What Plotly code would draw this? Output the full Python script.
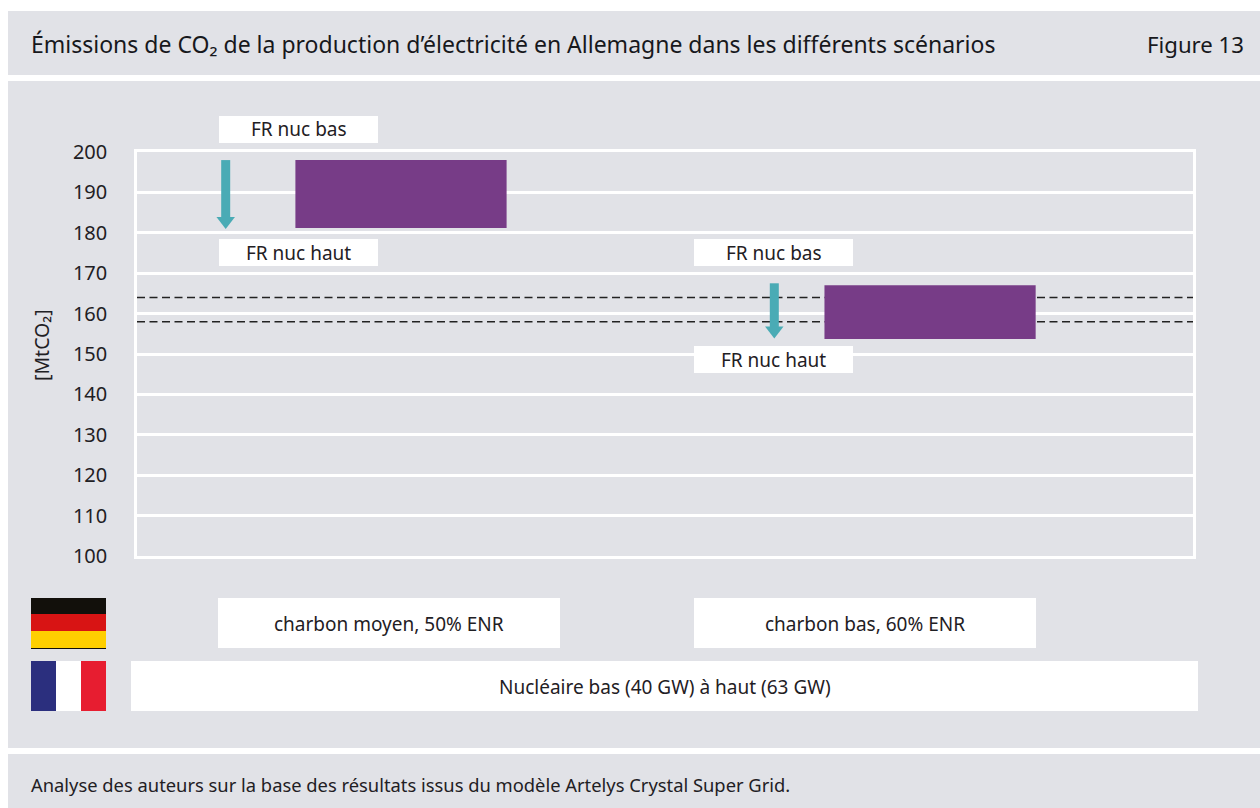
import plotly.graph_objects as go

# Data
scenario_pos = [0, 1.002]
scenario_labels = ["charbon moyen, 50% ENR", "charbon bas, 60% ENR"]
co2_low = [181.2, 153.7]     # FR nuc haut
co2_high = [198.0, 167.0]    # FR nuc bas
arrow_x = [-0.332, 0.707]
arrow_top = [198.0, 167.5]
arrow_tip = [180.9, 153.8]
reference_levels = [164, 158]
y_ticks = list(range(100, 201, 10))

TITLE = "Émissions de CO₂ de la production d’électricité en Allemagne dans les différents scénarios"
FIG_LABEL = "Figure 13"
FOOTER = "Analyse des auteurs sur la base des résultats issus du modèle Artelys Crystal Super Grid."
FR_LABEL = "Nucléaire bas (40 GW) à haut (63 GW)"
NUC_LOW = "FR nuc bas"
NUC_HIGH = "FR nuc haut"
Y_TITLE = "[MtCO₂]"

W, H = 1260, 808
L, R, T, B = 137, 1193, 152, 556
FONT = "Noto Sans"
TXT = "#1f2024"
PANEL = "#e1e2e7"
ARROW = "#4aabb5"

def px(x): return (x - L) / (R - L)
def py(y): return (B - y) / (B - T)

fig = go.Figure()

def rect(x0, y0, x1, y1, color, layer="below"):
    fig.add_shape(type="rect", xref="paper", yref="paper", x0=px(x0), x1=px(x1), y0=py(y0), y1=py(y1),
                  fillcolor=color, line_width=0, layer=layer)

def text(x, y, s, size, anchor="center", color=TXT, angle=0):
    fig.add_annotation(xref="paper", yref="paper", x=px(x), y=py(y), text=s, showarrow=False,
                       xanchor=anchor, yanchor="middle", borderpad=0, borderwidth=0, textangle=angle,
                       font=dict(family=FONT, size=size, color=color))

# Panels
rect(8, 11, W, 75, PANEL)
rect(8, 81, W, 748, PANEL)
rect(8, 754, W, H, PANEL)

# Reference lines (under the bars)
for lev in reference_levels:
    fig.add_shape(type="line", xref="x", yref="y", x0=-0.5, x1=1.5, y0=lev, y1=lev,
                  line=dict(color="#222222", width=1.6, dash="8px,4.5px"), layer="between")

# Bars
fig.add_trace(go.Bar(x=scenario_pos, y=[h - l for h, l in zip(co2_high, co2_low)], base=co2_low,
                     width=0.4, marker=dict(color="#773c87", line_width=0), showlegend=False))

# Arrows
for i in range(len(scenario_pos)):
    fig.add_trace(go.Scatter(x=[arrow_x[i], arrow_x[i]], y=[arrow_top[i], arrow_tip[i] + 2.5], mode="lines",
                             line=dict(color=ARROW, width=9), showlegend=False))
    fig.add_trace(go.Scatter(x=[arrow_x[i]], y=[arrow_tip[i] + 2], mode="markers",
                             marker=dict(symbol="triangle-down", size=16, color=ARROW, line_width=0),
                             showlegend=False))

# Text boxes
for (x0, y0, x1, y1, s, dy) in [(219, 116, 378, 143, NUC_LOW, -1), (219, 239, 378, 266, NUC_HIGH, 0),
                                (694, 239, 853, 266, NUC_LOW, 0), (694, 346, 853, 373, NUC_HIGH, 0)]:
    rect(x0, y0, x1, y1, "white", "above")
    text((x0 + x1) / 2, (y0 + y1) / 2 + dy, s, 19)
for (x0, x1, s) in [(218, 560, scenario_labels[0]), (694, 1036, scenario_labels[1])]:
    rect(x0, 598, x1, 648, "white")
    text((x0 + x1) / 2, 623.5, s, 19)
rect(131, 661, 1198, 711, "white")
text(664.5, 687, FR_LABEL, 19)

# Flags
rect(31, 598, 106, 649, "#12100b")
rect(31, 614, 106, 631, "#d81414")
rect(31, 631, 106, 648, "#ffcf00")
rect(31, 661, 56, 711, "#2b2f7e")
rect(56, 661, 81, 711, "#ffffff")
rect(81, 661, 106, 711, "#e71d30")

# Header and footer
text(31, 44, TITLE, 23, "left", "#17181c")
text(1244, 44, FIG_LABEL, 22.2, "right", "#17181c")
text(31, 784, FOOTER, 18.35, "left")
text(41, 345, Y_TITLE, 19.5, angle=-90)

fig.update_layout(
    width=W, height=H, autosize=False,
    margin=dict(l=L, r=W - R, t=T, b=H - B, pad=0),
    paper_bgcolor="white", plot_bgcolor="rgba(0,0,0,0)",
    font=dict(family=FONT, color=TXT),
    showlegend=False,
    xaxis=dict(range=[-0.5, 1.5], showticklabels=False, showgrid=False, zeroline=False,
               showline=True, mirror=True, linecolor="white", linewidth=2.5, ticks=""),
    yaxis=dict(range=[100, 200], tickvals=y_ticks, showgrid=True, gridcolor="white", gridwidth=2.5,
               zeroline=False, showline=True, mirror=True, linecolor="white", linewidth=2.5,
               ticks="", ticklabelstandoff=23, tickfont=dict(family=FONT, size=20, color=TXT)),
)

fig.write_html("out.html", config={"displayModeBar": False},
               post_script="document.body.style.margin='0';document.body.style.overflow='hidden';")
